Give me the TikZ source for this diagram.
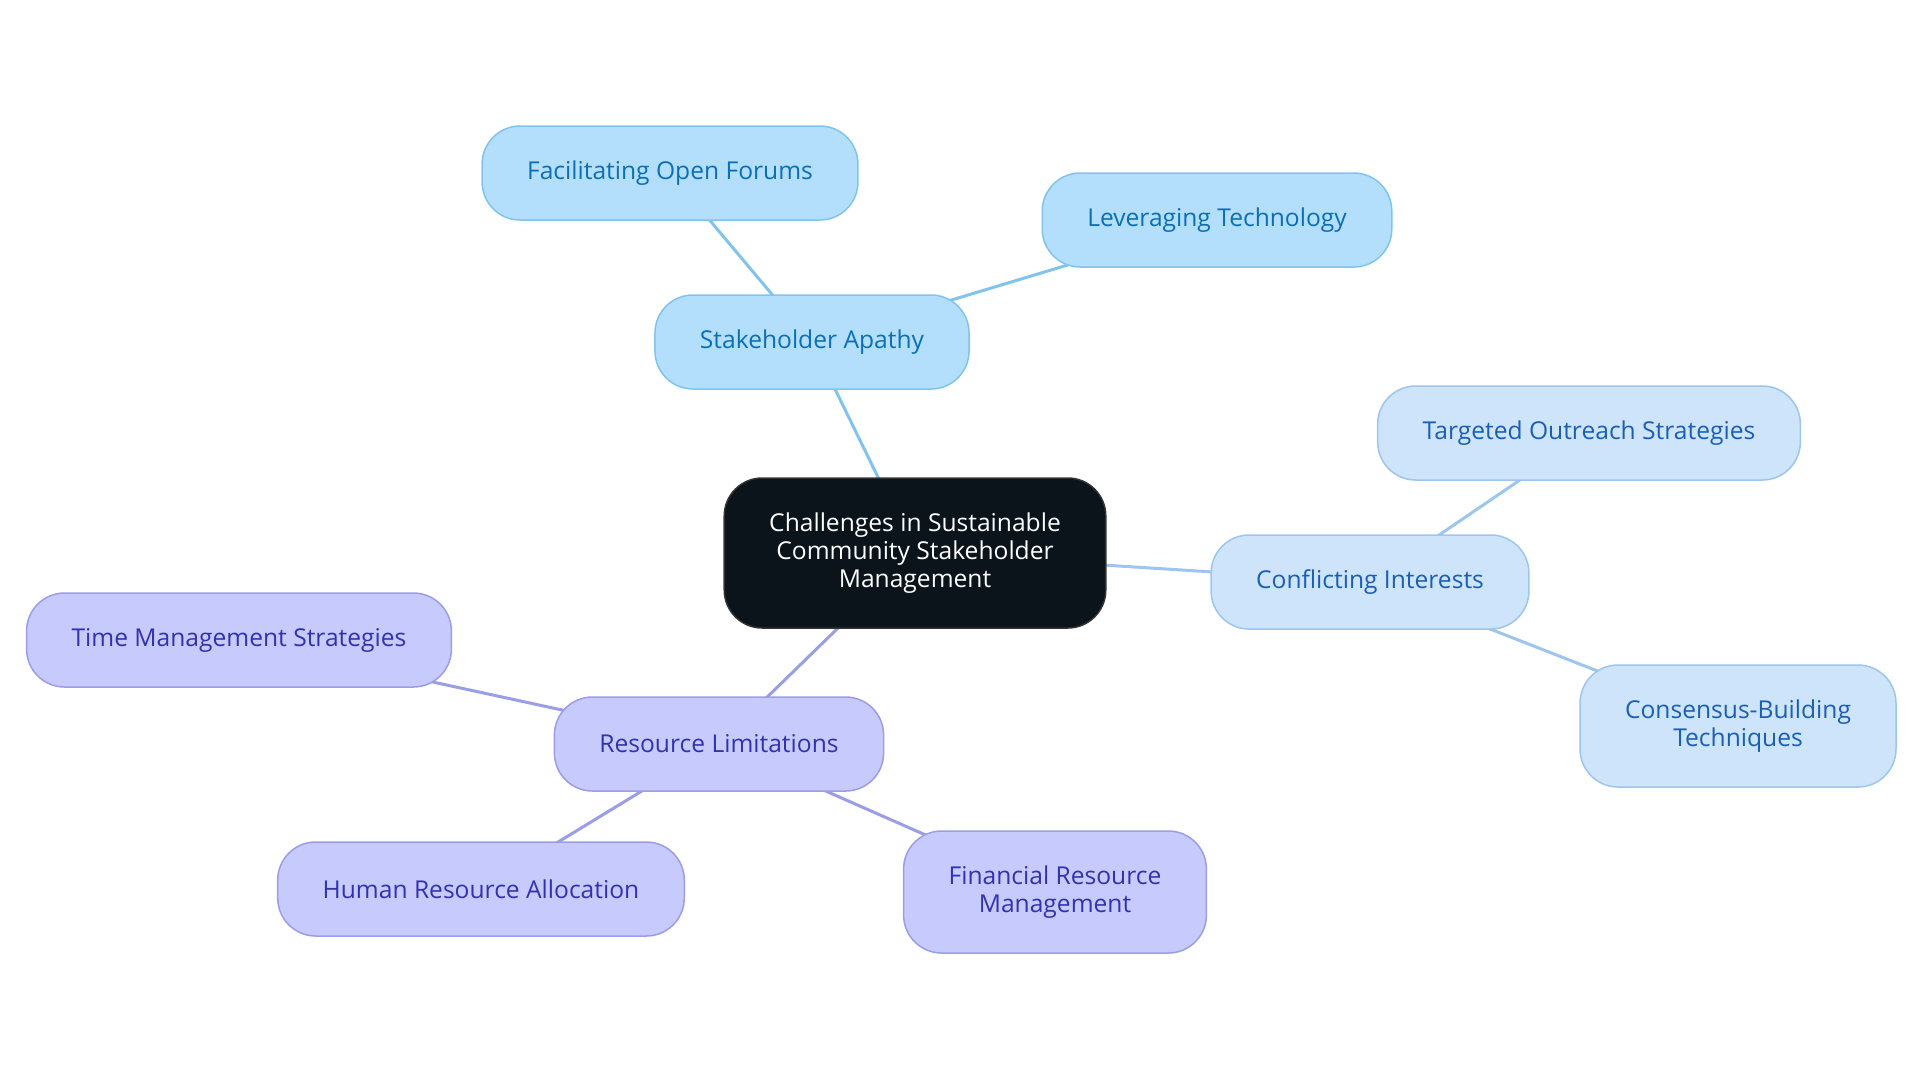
\documentclass[tikz,border=0pt]{standalone}
\usepackage{fontspec}
\setmainfont{Open Sans}
\usetikzlibrary{positioning, backgrounds}
\definecolor{rootfill}{HTML}{0B131B}
\definecolor{apfill}{HTML}{B3DFFD}
\definecolor{apline}{HTML}{80C4EE}
\definecolor{aptext}{HTML}{0B6FB5}
\definecolor{cifill}{HTML}{CDE4FB}
\definecolor{ciline}{HTML}{9DC5EE}
\definecolor{citext}{HTML}{1A5FB4}
\definecolor{rlfill}{HTML}{C7CAFD}
\definecolor{rlline}{HTML}{9A9DE8}
\definecolor{rltext}{HTML}{3232B0}

\begin{document}
\begin{tikzpicture}[x=0.5pt, y=-0.5pt,
		box/.style={rounded corners=19pt, line width=0.75pt, align=center, inner xsep=22.5pt, inner ysep=0pt, minimum height=47pt, font=\fontsize{12.3}{14}\selectfont},
		two/.style={minimum height=61pt},
		ap/.style={box, fill=apfill, draw=apline, text=aptext},
		ci/.style={box, fill=cifill, draw=ciline, text=citext},
		rl/.style={box, fill=rlfill, draw=rlline, text=rltext},
		apedge/.style={draw=apline, line width=1.5pt},
		ciedge/.style={draw=ciline, line width=1.5pt},
		rledge/.style={draw=rlline, line width=1.5pt}]
			\useasboundingbox (0,0) rectangle (1920,1083);
			\node[box, fill=rootfill, draw=black!80, text=white, minimum height=75pt] (root) at (915,553) {Challenges in Sustainable\\Community Stakeholder\\Management};
			\node[ap] (apathy) at (812,342) {Stakeholder Apathy};
				\node[ap] (forums) at (670,173) {Facilitating Open Forums};
				\node[ap] (tech) at (1217,220) {Leveraging Technology};
			\node[ci] (conflict) at (1370,582) {Conflicting Interests};
				\node[ci] (outreach) at (1589,433) {Targeted Outreach Strategies};
				\node[ci, two] (consensus) at (1738,726) {Consensus-Building\\Techniques};
			\node[rl] (resource) at (719,744) {Resource Limitations};
				\node[rl] (time) at (239,640) {Time Management Strategies};
				\node[rl] (human) at (481,889) {Human Resource Allocation};
				\node[rl, two] (finance) at (1055,892) {Financial Resource\\Management};
			% connectors go behind the boxes
			\begin{pgfonlayer}{background}
				\path[apedge] (root.center) -- (apathy.center) (apathy.center) -- (forums.center) (apathy.center) -- (tech.center);
				\path[ciedge] (root.center) -- (conflict.center) (conflict.center) -- (outreach.center) (conflict.center) -- (consensus.center);
				\path[rledge] (root.center) -- (resource.center) (resource.center) -- (time.center) (resource.center) -- (human.center) (resource.center) -- (finance.center);
			\end{pgfonlayer}
		\end{tikzpicture}
\end{document}
